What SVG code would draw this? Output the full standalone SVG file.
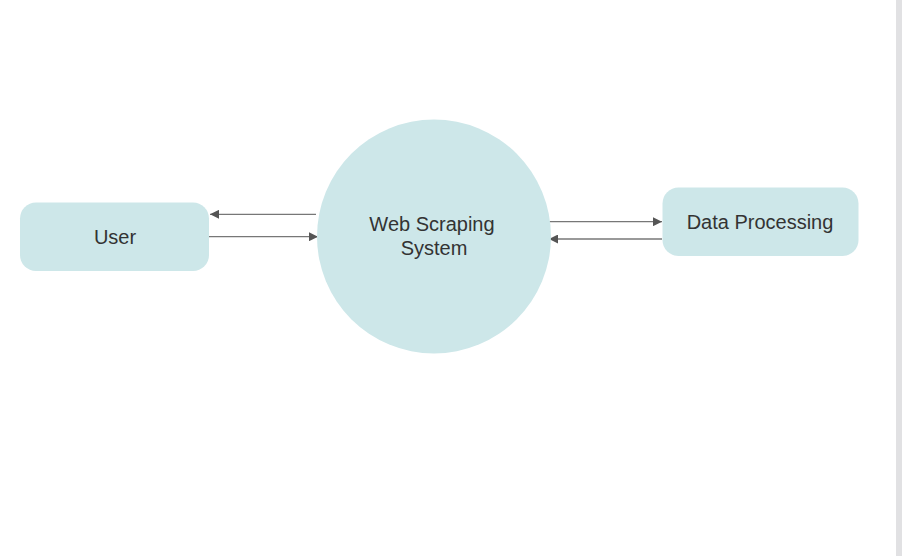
<svg xmlns="http://www.w3.org/2000/svg" width="902" height="556" viewBox="0 0 902 556">
<style>
.node{fill:#cde7e9;}
.lbl{font-family:"Liberation Sans",Arial,sans-serif;font-size:20px;fill:#333333;text-anchor:middle;}
.edge{stroke:#777777;stroke-width:1.3;fill:none;marker-end:url(#arr);}
</style>
<defs>
<marker id="arr" viewBox="0 0 10 10" refX="10" refY="5" markerWidth="9" markerHeight="9" markerUnits="userSpaceOnUse" orient="auto">
<path d="M0,0 L10,5 L0,10 z" fill="#555555"/>
</marker>
</defs>
<rect x="0" y="0" width="902" height="556" fill="#ffffff"/>
<rect x="896" y="0" width="6" height="556" fill="#e1e1e3"/>
<g id="edges">
<line class="edge" x1="316" y1="214.3" x2="210" y2="214.3"/>
<line class="edge" x1="209" y1="236.7" x2="318" y2="236.7"/>
<line class="edge" x1="549" y1="221.7" x2="662" y2="221.7"/>
<line class="edge" x1="662" y1="239" x2="549" y2="239"/>
</g>
<g id="user">
<rect class="node" x="20" y="202.5" width="189" height="68.5" rx="16"/>
<text class="lbl" x="115" y="244">User</text>
</g>
<g id="web-scraping-system">
<circle class="node" cx="434" cy="236.5" r="117"/>
<text class="lbl" x="432" y="231">Web Scraping</text>
<text class="lbl" x="434" y="254.5">System</text>
</g>
<g id="data-processing">
<rect class="node" x="662.5" y="187.5" width="196" height="68.5" rx="16"/>
<text class="lbl" x="760" y="229.3">Data Processing</text>
</g>
</svg>
